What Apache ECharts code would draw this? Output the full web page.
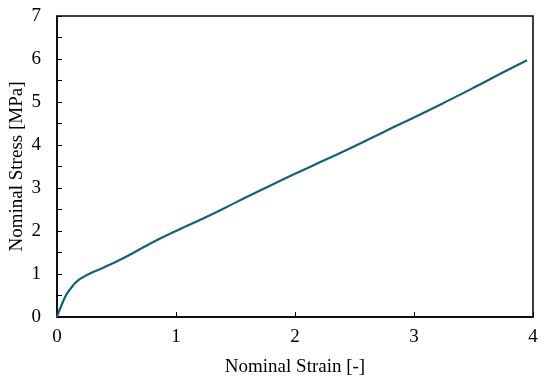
<!DOCTYPE html>
<html><head><meta charset="utf-8">
<script src="https://cdn.jsdelivr.net/npm/echarts@6/dist/echarts.min.js"></script>
<style>html,body{margin:0;padding:0;background:#fff}#c{width:550px;height:384px}</style>
</head><body><div id="c"></div>
<script>
const strain = [0, 0.011, 0.039, 0.067, 0.095, 0.137, 0.18, 0.235, 0.29, 0.375, 0.46, 0.56, 0.70, 0.85, 1.0, 1.25, 1.5, 1.75, 2.0, 2.25, 2.5, 2.75, 3.0, 3.25, 3.5, 3.75, 3.95];
const stress = [0, 0.09, 0.28, 0.46, 0.59, 0.74, 0.86, 0.95, 1.03, 1.13, 1.24, 1.37, 1.58, 1.8, 2.0, 2.32, 2.66, 3.0, 3.33, 3.65, 3.97, 4.31, 4.64, 4.98, 5.33, 5.69, 5.97];
const xTicks = [0, 1, 2, 3, 4];
const yTicks = [0, 1, 2, 3, 4, 5, 6, 7];
const font = '"Liberation Serif", "Times New Roman", serif';
const chart = echarts.init(document.getElementById('c'));
chart.setOption({
  animation: false,
  grid: {left: 57, right: 17, top: 16, bottom: 67, outerBoundsMode: 'none', containLabel: false, show: true, borderColor: '#000', borderWidth: 1.5, backgroundColor: 'transparent'},
  xAxis: {
    type: 'value', min: 0, max: 4, interval: 1,
    name: 'Nominal Strain [-]', nameLocation: 'middle', nameGap: 41, nameMoveOverlap: false,
    nameTextStyle: {fontFamily: font, fontSize: 19, color: '#000'},
    axisLine: {show: true, lineStyle: {color: '#000', width: 1.5}},
    axisTick: {show: true, inside: true, length: 5, lineStyle: {color: '#000'}},
    axisLabel: {fontFamily: font, fontSize: 19, color: '#000', margin: 11, formatter: v => xTicks.includes(v) ? String(v) : ''},
    splitLine: {show: false}
  },
  yAxis: {
    type: 'value', min: 0, max: 7, interval: 1,
    name: 'Nominal Stress [MPa]', nameLocation: 'middle', nameGap: 30, nameMoveOverlap: false,
    nameTextStyle: {fontFamily: font, fontSize: 19, color: '#000'},
    axisLine: {show: true, lineStyle: {color: '#000', width: 1.5}},
    axisTick: {show: true, inside: true, length: 5, lineStyle: {color: '#000'}},
    minorTick: {show: true, splitNumber: 2, length: 5, lineStyle: {color: '#000'}},
    axisLabel: {fontFamily: font, fontSize: 19, color: '#000', margin: 16, formatter: v => yTicks.includes(v) ? String(v) : ''},
    splitLine: {show: false}
  },
  series: [{
    type: 'line', data: strain.map((x, i) => [x, stress[i]]),
    showSymbol: false, smooth: 0.5,
    lineStyle: {color: '#14617a', width: 2.2}
  }]
});
</script></body></html>
